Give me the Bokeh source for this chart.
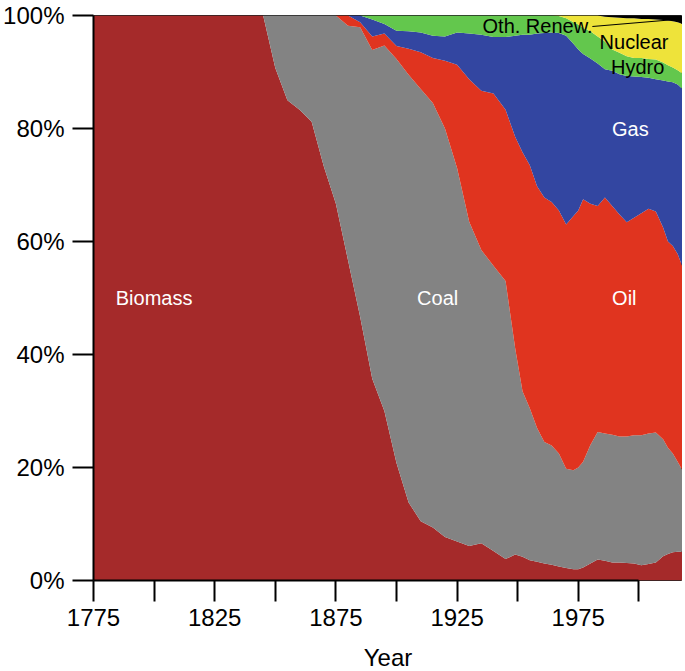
from bokeh.plotting import figure
from bokeh.models import ColumnDataSource, FixedTicker, Label
from bokeh.embed import file_html
from bokeh.resources import INLINE

years = [1775, 1780, 1785, 1790, 1795, 1800, 1805, 1810, 1815, 1820, 1825, 1830, 1835, 1840, 1845,
         1850, 1855, 1860, 1865, 1870, 1875, 1880, 1885, 1890, 1895, 1900, 1905, 1910, 1915, 1920,
         1925, 1930, 1935, 1940, 1945, 1949, 1952, 1955, 1958, 1961, 1964, 1967, 1970, 1973, 1975,
         1977, 1980, 1983, 1986, 1989, 1992, 1995, 1998, 2001, 2004, 2007, 2010, 2012, 2014, 2016, 2018]

biomass = [100]*15 + [90.7, 85.0, 83.3, 81.2, 73.3, 66.7, 56.7, 46.7, 35.7, 30.0, 20.8, 13.8, 10.5, 9.4, 7.7,
                      6.9, 6.1, 6.6, 5.2, 3.8, 4.6, 4.2, 3.6, 3.3, 3.0, 2.8, 2.5, 2.2, 2.0, 2.0,
                      2.3, 3.0, 3.7, 3.5, 3.2, 3.2, 3.1, 3.0, 2.7, 2.9, 3.2, 4.3, 4.7, 5.0, 5.1, 5.1]
coal = [0]*15 + [9.3, 15.0, 16.7, 18.8, 26.7, 33.3, 41.5, 51.2, 58.2, 64.7, 71.5, 75.7, 76.5, 75.1, 72.3,
                 66.1, 57.4, 51.9, 50.5, 49.2, 36.4, 29.3, 26.9, 23.7, 21.5, 21.1, 20.0, 17.6, 17.5, 18.0,
                 18.7, 21.0, 22.6, 22.5, 22.6, 22.3, 22.4, 22.7, 23.0, 23.1, 23.0, 20.7, 18.8, 17.5, 15.9, 14.4]
oil = [0]*15 + [0, 0, 0, 0, 0, 0, 1.8, 0.9, 2.4, 2.1, 2.3, 4.6, 6.5, 8.0, 12.0,
                18.3, 25.2, 28.2, 30.5, 30.3, 37.5, 42.3, 43.0, 42.8, 43.3, 43.1, 43.0, 43.2, 45.0, 45.5,
                46.5, 42.7, 40.0, 41.8, 40.5, 39.3, 37.9, 38.5, 39.3, 39.8, 39.1, 37.5, 36.5, 36.7, 36.8, 36.0]
gas = [0]*15 + [0, 0, 0, 0, 0, 0, 0, 1.2, 3.0, 1.7, 2.7, 3.1, 3.5, 3.9, 4.3,
                5.7, 8.1, 9.9, 10.0, 12.9, 17.9, 20.8, 23.1, 27.0, 29.1, 30.0, 31.4, 33.4, 30.5, 28.5,
                25.7, 25.7, 25.2, 22.7, 23.9, 24.8, 25.9, 25.0, 24.1, 23.2, 23.4, 26.0, 28.3, 29.0, 30.0, 31.5]
hydro = [0]*15 + [0, 0, 0, 0, 0, 0, 0, 0, 0.7, 1.5, 2.7, 2.8, 3.0, 3.6, 3.7,
                  3.0, 3.2, 3.4, 3.8, 3.8, 3.6, 3.4, 3.4, 3.2, 3.1, 3.0, 3.0, 3.1, 3.8, 4.4,
                  4.6, 4.8, 4.8, 4.9, 3.8, 3.8, 3.5, 3.3, 3.4, 3.3, 3.5, 3.2, 2.9, 2.6, 2.5, 2.7]
nuclear = [0]*15 + [0]*26 + [0.1, 0.5, 1.2, 1.6,
                             2.2, 2.8, 3.7, 4.4, 5.7, 6.2, 6.7, 7.0, 6.9, 7.1, 7.1, 7.5, 7.9, 8.2, 8.5, 8.8]
other = [0]*15 + [0]*33 + [0.2, 0.3, 0.4, 0.5, 0.5, 0.6, 0.6, 0.7, 0.8, 0.9, 1.0, 1.2, 1.5]

names = ["Biomass", "Coal", "Oil", "Gas", "Hydro", "Nuclear", "Oth. Renew."]
colors = ["#A52A2A", "#838383", "#E0341F", "#3346A1", "#63C74D", "#EEE33A", "#000000"]

x_ticks = [1775, 1800, 1825, 1850, 1875, 1900, 1925, 1950, 1975, 2000]
x_tick_labels = {1775: "1775", 1800: "", 1825: "1825", 1850: "", 1875: "1875",
                 1900: "", 1925: "1925", 1950: "", 1975: "1975", 2000: ""}
y_ticks = [0, 20, 40, 60, 80, 100]
y_tick_labels = {0: "0%", 20: "20%", 40: "40%", 60: "60%", 80: "80%", 100: "100%"}

# label placement (layout): (text, x, y, colour)
area_labels = [("Biomass", 1800, 50, "white"), ("Coal", 1917, 50, "white"),
               ("Oil", 1994, 50, "white"), ("Gas", 1996.5, 80, "white"),
               ("Nuclear", 1998, 95.3, "black"), ("Hydro", 1999.5, 90.9, "black"),
               ("Oth. Renew.", 1958.2, 98.2, "black")]
leader = (1980.8, 98.05, 2013.8, 99.25)

src = ColumnDataSource(dict(year=years, **{n: v for n, v in zip(names, [biomass, coal, oil, gas, hydro, nuclear, other])}))

p = figure(frame_width=589, frame_height=565, x_range=(1775, 2018), y_range=(0, 100),
           output_backend="svg", toolbar_location=None,
           min_border_left=89, min_border_top=15, min_border_right=0, min_border_bottom=86)
p.varea_stack(stackers=names, x="year", color=colors, source=src)

FONT = "Liberation Sans"
for ax in (p.xaxis[0], p.yaxis[0]):
    ax.axis_line_width = 2
    ax.axis_line_color = "black"
    ax.major_tick_line_width = 2
    ax.major_tick_line_color = "black"
    ax.major_tick_in = 0
    ax.major_tick_out = 21
    ax.minor_tick_line_color = None
    ax.major_label_text_font = FONT
    ax.major_label_text_font_size = "24px"
    ax.major_label_text_color = "black"

p.xaxis.ticker = FixedTicker(ticks=x_ticks)
p.xaxis.major_label_overrides = x_tick_labels
p.xaxis.bounds = (1775, 2000)
p.xaxis.major_label_standoff = 7
p.xaxis.axis_label = "Year"
p.xaxis.axis_label_text_font = FONT
p.xaxis.axis_label_text_font_size = "24px"
p.xaxis.axis_label_text_font_style = "normal"
p.xaxis.axis_label_text_color = "black"
p.xaxis.axis_label_standoff = 15

p.yaxis.ticker = FixedTicker(ticks=y_ticks)
p.yaxis.major_label_overrides = y_tick_labels
p.yaxis.major_label_standoff = 8

p.xgrid.visible = False
p.ygrid.visible = False
p.outline_line_color = "#222222"
p.outline_line_width = 1
p.background_fill_color = "white"
p.border_fill_color = "white"

for t, x, y, c in area_labels:
    p.add_layout(Label(x=x, y=y, text=t, text_color=c, text_font=FONT, text_font_size="20px",
                       text_align="center", text_baseline="middle"))

p.segment(x0=[leader[0]], y0=[leader[1]], x1=[leader[2]], y1=[leader[3]], line_color="black", line_width=1.2)

open("out.html", "w").write(file_html(p, INLINE))
